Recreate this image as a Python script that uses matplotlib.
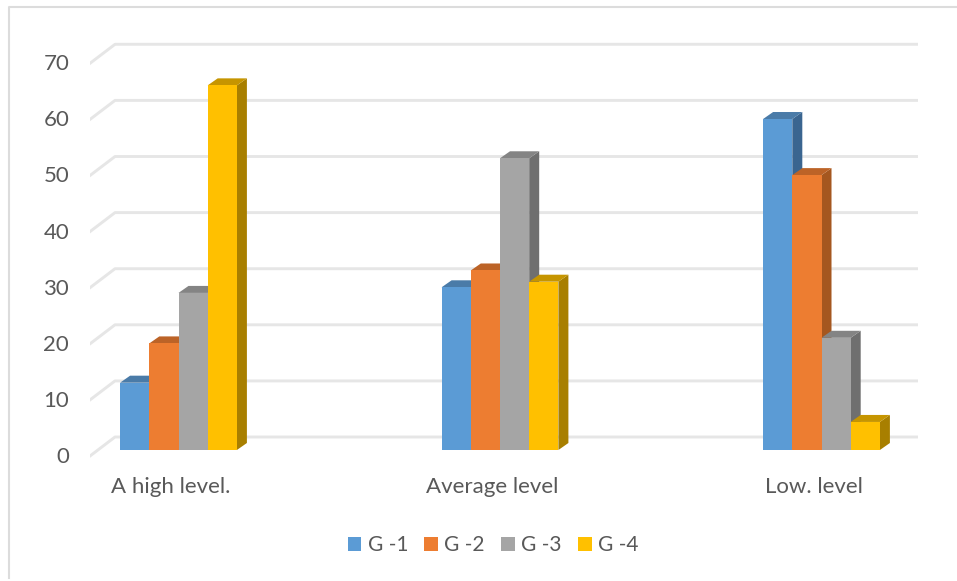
import numpy as np
import matplotlib
matplotlib.use("Agg")
import matplotlib.pyplot as plt
from matplotlib.lines import Line2D
from matplotlib.patches import Polygon, Patch

plt.rcParams['font.family'] = ['Lato', 'DejaVu Sans']

categories = ["A high level.", "Average level", "Low. level"]
series_names = ["G -1", "G -2", "G -3", "G -4"]
g1 = [12, 29, 59]
g2 = [19, 32, 49]
g3 = [28, 52, 20]
g4 = [65, 30, 5]
y_ticks = [0, 10, 20, 30, 40, 50, 60, 70]

front_colors = ["#5B9BD5", "#ED7D31", "#A5A5A5", "#FFC000"]
top_colors = ["#4A7BA8", "#BC6327", "#848484", "#C69500"]
side_colors = ["#3A6590", "#A5571F", "#6F6F6F", "#A87F00"]
text_color = "#595959"
grid_color = "#E6E6E6"

W, H = 957, 581
fig = plt.figure(figsize=(W / 100, H / 100), dpi=100)

# axes box in pixels, scales: px per category and px per value
px_left, px_right, px_top, px_bottom = 90, 918, 30, 470
px_x = 321.5
px_y = 5.61
first_center = 178.5
ax = fig.add_axes([px_left / W, 1 - px_bottom / H, (px_right - px_left) / W, (px_bottom - px_top) / H])
ax.set_xlim((px_left - first_center) / px_x, (px_right - first_center) / px_x)
ax.set_ylim((450 - px_bottom) / px_y, (450 - px_top) / px_y)
for s in ax.spines.values():
    s.set_visible(False)

x = np.arange(len(categories))
bar_w = 29.2 / px_x
depth_x = 10 / px_x
depth_y = 7 / px_y

# floor/back wall gridlines
back_shift = 13 / px_y
front_shift = -6 / px_y
x0, x1 = ax.get_xlim()
wall_x = x0 + 25 / px_x
for v in y_ticks:
    ax.plot([x0, wall_x, x1], [v + front_shift, v + back_shift, v + back_shift],
            color=grid_color, lw=2.1, zorder=1, solid_joinstyle='round')

# bars with fake 3d faces
all_series = [g1, g2, g3, g4]
z = 2
for gi in range(len(categories)):
    for si, values in enumerate(all_series):
        left = x[gi] + (si - 2) * bar_w
        right = left + bar_w
        v = values[gi]
        ax.add_patch(Polygon([(right, 0), (right + depth_x, depth_y), (right + depth_x, v + depth_y), (right, v)],
                             facecolor=side_colors[si], edgecolor='none', zorder=z))
        ax.add_patch(Polygon([(left, v), (left + depth_x, v + depth_y), (right + depth_x, v + depth_y), (right, v)],
                             facecolor=top_colors[si], edgecolor='none', zorder=z))
        ax.bar(left, v, width=bar_w, align='edge', color=front_colors[si], zorder=z + 1)
        z += 2

ax.set_xticks(x - 8 / px_x)
ax.set_xticklabels(categories)
ax.set_yticks(np.array(y_ticks) - 5 / px_y)
ax.set_yticklabels([str(v) for v in y_ticks])
ax.tick_params(axis='x', length=0, pad=5, labelsize=16, labelcolor=text_color)
ax.tick_params(axis='y', length=0, pad=15, labelsize=16, labelcolor=text_color)

# legend
handles = [Patch(facecolor=c, edgecolor='none') for c in front_colors]
fig.legend(handles, series_names, loc='center', bbox_to_anchor=(493 / W, 1 - 545 / H), ncol=4, frameon=False,
           fontsize=15, labelcolor=text_color, handlelength=0.67, handleheight=0.67,
           handletextpad=0.3, columnspacing=0.77)

# chart frame, only left and top show in the source
fig.add_artist(Line2D([8.5 / W, 8.5 / W, 1], [1 - 578 / H, 1 - 7 / H, 1 - 7 / H], color="#DCDCDC", lw=1.5))

fig.savefig("out.png", dpi=100)
